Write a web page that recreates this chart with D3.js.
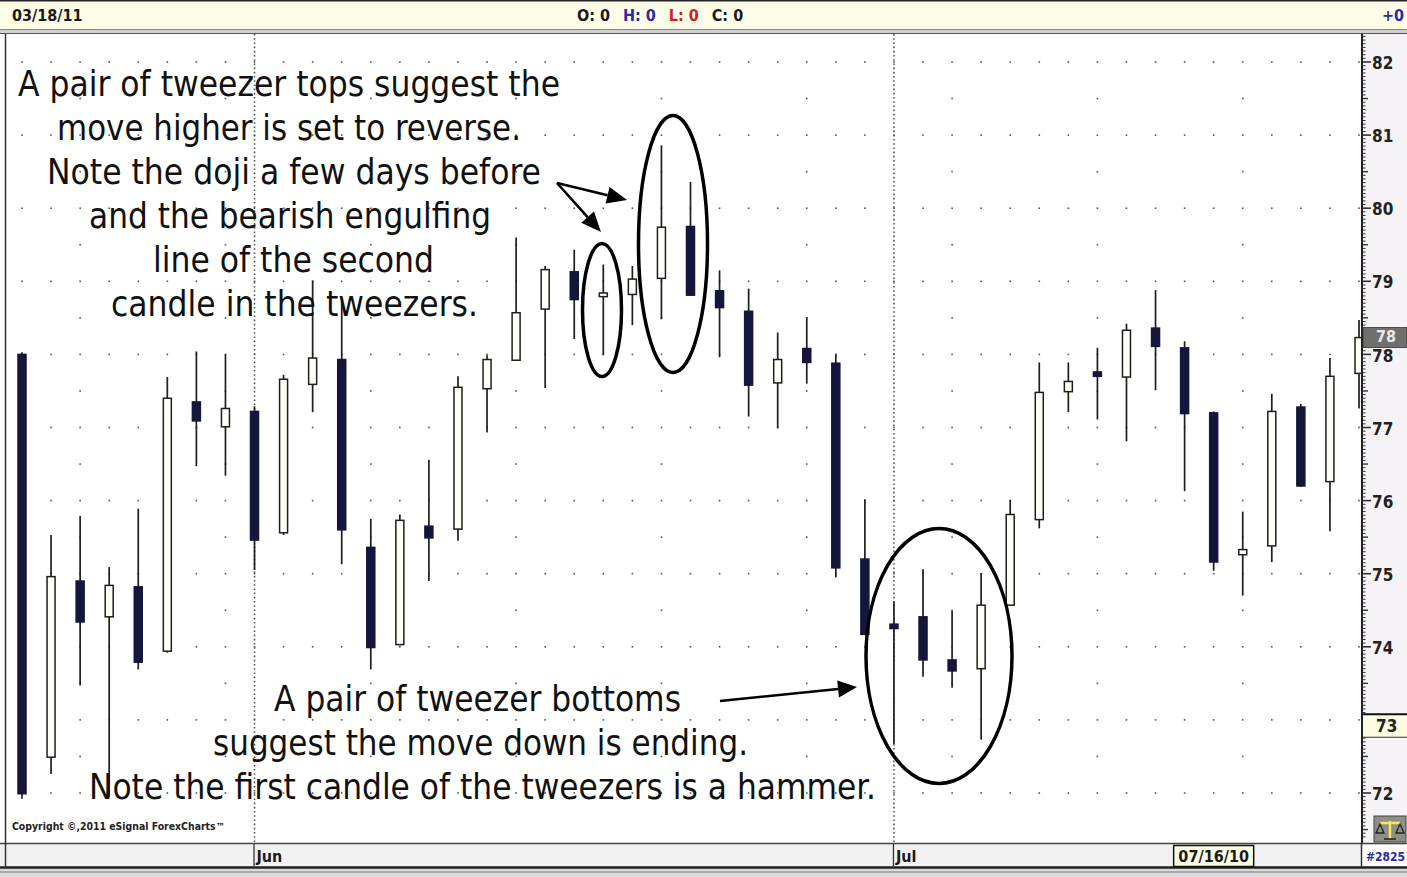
<!DOCTYPE html>
<html>
<head>
<meta charset="utf-8">
<script src="https://cdn.jsdelivr.net/npm/d3@7/dist/d3.min.js"></script>
<style>
  html, body { margin: 0; padding: 0; background: #fff; }
  svg { display: block; }
</style>
</head>
<body>
<svg id="chart" width="1407" height="877"></svg>
<script>
// ---------------- DATA ----------------
const dates = [
  "05/20/10","05/21/10","05/24/10","05/25/10","05/26/10","05/27/10","05/28/10","05/31/10",
  "06/01/10","06/02/10","06/03/10","06/04/10","06/07/10","06/08/10","06/09/10","06/10/10",
  "06/11/10","06/14/10","06/15/10","06/16/10","06/17/10","06/18/10","06/21/10","06/22/10",
  "06/23/10","06/24/10","06/25/10","06/28/10","06/29/10","06/30/10","07/01/10","07/02/10",
  "07/05/10","07/06/10","07/07/10","07/08/10","07/09/10","07/12/10","07/13/10","07/14/10",
  "07/15/10","07/16/10","07/19/10","07/20/10","07/21/10","07/22/10","07/23/10"
];
const openVals = [78.00,72.49,74.90,74.41,74.82,73.94,77.35,77.01,77.22,75.56,77.59,77.93,75.36,74.03,75.65,75.61,
  77.53,77.92,78.62,79.13,78.79,78.82,79.04,79.75,78.87,78.59,77.61,78.08,77.88,75.20,74.31,74.41,
  73.82,73.70,74.57,75.74,77.49,77.76,77.69,78.36,78.09,77.20,75.26,75.38,77.28,76.26,77.74];
const highVals = [78.03,75.53,75.79,75.09,75.89,77.69,78.04,78.00,77.29,77.72,79.01,78.77,75.75,75.81,76.56,77.70,
  77.99,79.60,79.21,79.43,79.23,79.21,80.86,80.36,79.15,78.90,78.30,78.51,78.00,76.02,74.62,75.06,
  74.49,75.01,76.01,77.89,77.89,78.09,78.42,78.88,78.18,77.22,75.85,77.46,77.32,77.95,78.47];
const lowVals = [71.92,72.26,73.47,71.95,73.69,73.92,76.47,76.34,75.05,75.53,77.21,75.13,73.69,74.02,74.90,75.45,
  76.93,77.92,77.54,78.21,77.99,78.40,78.48,78.80,77.96,77.15,76.99,77.60,74.95,74.16,72.67,73.59,
  73.44,72.73,74.56,75.62,77.21,77.11,76.81,77.51,76.13,75.04,74.70,75.16,76.19,75.58,77.26];
const closeVals = [71.99,74.96,74.34,74.84,73.79,77.40,77.09,77.26,75.46,77.66,77.95,75.60,73.99,75.73,75.49,77.55,
  77.93,78.57,79.16,78.75,78.84,79.03,79.74,78.81,78.64,77.58,77.93,77.89,75.08,74.17,74.25,73.82,
  73.67,74.57,75.81,77.48,77.63,77.70,78.33,78.11,77.19,75.16,75.33,77.22,76.20,77.70,78.23];
const priceTicks = [72,73,74,75,76,77,78,79,80,81,82];
const monthLabels = ["Jun","Jul"];
const cursorPrice = 72.92;
const cursorDate = "07/16/10";
const headerDate = "03/18/11";
const barCount = "#2825";

const topNotes = [
  "A pair of tweezer tops suggest the",
  "move higher is set to reverse.",
  "Note the doji a few days before",
  "and the bearish engulfing",
  "line of the second",
  "candle in the tweezers."
];
const bottomNotes = [
  "A pair of tweezer bottoms",
  "suggest the move down is ending.",
  "Note the first candle of the tweezers is a hammer."
];

// ---------------- LAYOUT ----------------
const W = 1407, H = 877;
const plot = { left: 6, right: 1362, top: 34, bottom: 843 };
const NARROW = "'Liberation Sans Narrow','Arial Narrow','DejaVu Sans Condensed',sans-serif";
const parse = d3.timeParse("%m/%d/%y");
const data = dates.map((d, i) => ({
  date: d, t: parse(d), o: openVals[i], h: highVals[i], l: lowVals[i], c: closeVals[i]
}));

const x = d3.scalePoint().domain(dates).range([22, 1359]);
const y = d3.scaleLinear().domain([72, 82]).range([793, 62]);

const svg = d3.select("#chart");

// background
svg.append("rect").attr("x", 0).attr("y", 0).attr("width", W).attr("height", H).attr("fill", "#ffffff");

// ---------- top bar ----------
svg.append("rect").attr("x", 0).attr("y", 0).attr("width", W).attr("height", 30).attr("fill", "#fdfde7");
svg.append("line").attr("x1", 0).attr("x2", W).attr("y1", 0.75).attr("y2", 0.75).attr("stroke", "#222").attr("stroke-width", 1.5);
svg.append("rect").attr("x", 0).attr("y", 29).attr("width", W).attr("height", 5).attr("fill", "#cfcfcf");
svg.append("line").attr("x1", 0).attr("x2", W).attr("y1", 29.5).attr("y2", 29.5).attr("stroke", "#888").attr("stroke-width", 1);
svg.append("line").attr("x1", 0).attr("x2", W).attr("y1", 33.5).attr("y2", 33.5).attr("stroke", "#555").attr("stroke-width", 1);

const hdr = svg.append("g").attr("font-family", NARROW).attr("font-weight", "bold").attr("font-size", 16);
hdr.append("text").attr("x", 12).attr("y", 21).attr("fill", "#1a1a1a").text(headerDate);
const ohlc = hdr.append("text").attr("x", 577).attr("y", 21);
[["O: 0", "#1a1a1a"], ["H: 0", "#2a2aa8"], ["L: 0", "#cc2222"], ["C: 0", "#1a1a1a"]].forEach((p, i) => {
  ohlc.append("tspan").attr("dx", i ? 13 : 0).attr("fill", p[1]).text(p[0]);
});
hdr.append("text").attr("x", 1404).attr("y", 21).attr("text-anchor", "end").attr("fill", "#2a2aa8").text("+0");

// ---------- plot area ----------
const clipId = "plotclip";
svg.append("clipPath").attr("id", clipId).append("rect")
  .attr("x", plot.left).attr("y", plot.top).attr("width", plot.right - plot.left + 2).attr("height", plot.bottom - plot.top);
const pg = svg.append("g").attr("clip-path", `url(#${clipId})`);

// grid dots: every bar on whole-number levels, Mondays on half levels
const dotG = pg.append("g").attr("fill", "#555");
const halfLevels = d3.range(72.5, 82, 1);
data.forEach(d => {
  priceTicks.forEach(v => {
    dotG.append("rect").attr("x", x(d.date) - 0.8).attr("y", y(v) - 0.8).attr("width", 1.6).attr("height", 1.6);
  });
  if (d.t.getDay() === 1) {
    halfLevels.forEach(v => {
      dotG.append("rect").attr("x", x(d.date) - 0.8).attr("y", y(v) - 0.8).attr("width", 1.6).attr("height", 1.6);
    });
  }
});

// month start dotted lines
const monthStarts = data.filter((d, i) => i > 0 && d.t.getMonth() !== data[i - 1].t.getMonth());
monthStarts.forEach(d => {
  pg.append("line").attr("x1", x(d.date)).attr("x2", x(d.date)).attr("y1", plot.top).attr("y2", plot.bottom)
    .attr("stroke", "#555").attr("stroke-width", 1.6).attr("stroke-dasharray", "1.6,2.6");
});

// candles
const bodyW = 8;
const cg = pg.append("g");
data.forEach(d => {
  const cx = x(d.date);
  const up = d.c >= d.o;
  cg.append("line").attr("x1", cx).attr("x2", cx).attr("y1", y(d.h)).attr("y2", y(d.l))
    .attr("stroke", "#1e1e1e").attr("stroke-width", 1.7);
  const top = y(Math.max(d.o, d.c)), bot = y(Math.min(d.o, d.c));
  const hgt = Math.max(bot - top, 3);
  cg.append("rect").attr("x", cx - bodyW / 2).attr("y", (top + bot) / 2 - hgt / 2)
    .attr("width", bodyW).attr("height", hgt)
    .attr("fill", up ? "#fffff8" : "#16153c")
    .attr("stroke", up ? "#1e1e1e" : "#16153c").attr("stroke-width", 1.5);
});

// annotations text
const noteG = pg.append("g").attr("font-family", NARROW).attr("font-size", 35).attr("fill", "#111");
const topLayout = [[18, 560, 96], [57, 521, 140], [47, 541, 184], [89, 491, 228], [153, 434, 272], [111, 478, 316]];
const botLayout = [[274, 681, 711], [213, 748, 755], [89, 876, 799]];
topNotes.forEach((t, i) => {
  const L = topLayout[i];
  noteG.append("text").attr("x", L[0]).attr("y", L[2]).attr("textLength", L[1] - L[0])
    .attr("lengthAdjust", "spacingAndGlyphs").text(t);
});
bottomNotes.forEach((t, i) => {
  const L = botLayout[i];
  noteG.append("text").attr("x", L[0]).attr("y", L[2]).attr("textLength", L[1] - L[0])
    .attr("lengthAdjust", "spacingAndGlyphs").text(t);
});

// ellipses
const ellG = pg.append("g").attr("fill", "none").attr("stroke", "#000").attr("stroke-width", 3.5);
ellG.append("ellipse").attr("cx", 602).attr("cy", 310).attr("rx", 19.5).attr("ry", 66.5);
ellG.append("ellipse").attr("cx", 673).attr("cy", 244).attr("rx", 34.5).attr("ry", 128.5);
ellG.append("ellipse").attr("cx", 939).attr("cy", 656).attr("rx", 73).attr("ry", 127.5);

// arrows
function arrow(g, x1, y1, x2, y2, len, wid) {
  const a = Math.atan2(y2 - y1, x2 - x1);
  const bx = x2 - len * Math.cos(a), by = y2 - len * Math.sin(a);
  g.append("line").attr("x1", x1).attr("y1", y1).attr("x2", bx).attr("y2", by)
    .attr("stroke", "#000").attr("stroke-width", 2.6);
  const px = -Math.sin(a) * wid / 2, py = Math.cos(a) * wid / 2;
  g.append("path").attr("d", `M${x2},${y2}L${bx + px},${by + py}L${bx - px},${by - py}Z`).attr("fill", "#000");
}
const arG = pg.append("g");
arrow(arG, 557, 183, 627, 200, 20, 17);
arrow(arG, 557, 183, 601, 232, 20, 17);
arrow(arG, 720, 701, 857, 687, 19, 17);

// copyright
pg.append("text").attr("x", 12).attr("y", 830).attr("font-family", NARROW).attr("font-weight", "bold")
  .attr("font-size", 10).attr("fill", "#222").attr("textLength", 213).attr("lengthAdjust", "spacingAndGlyphs")
  .text("Copyright \u00A9,2011 eSignal ForexCharts\u2122");

// left border
svg.append("line").attr("x1", 5.5).attr("x2", 5.5).attr("y1", plot.top).attr("y2", plot.bottom)
  .attr("stroke", "#333").attr("stroke-width", 1.5);

// ---------- right price axis ----------
const ax = svg.append("g");
ax.append("rect").attr("x", 1363).attr("y", plot.top).attr("width", W - 1363).attr("height", plot.bottom - plot.top)
  .attr("fill", "#f5f3f6");
const k0 = Math.ceil(y.invert(plot.bottom - 4) * 20), k1 = Math.floor(y.invert(plot.top + 2) * 20);
d3.range(k0, k1 + 1).forEach(k => {
  const v = k / 20, yy = y(v);
  let len = 2.5, sw = 1;
  if (k % 20 === 0) { len = 8; sw = 1.6; } else if (k % 10 === 0) { len = 5; sw = 1.4; }
  ax.append("line").attr("x1", 1363).attr("x2", 1363 + len).attr("y1", yy).attr("y2", yy)
    .attr("stroke", "#333").attr("stroke-width", sw);
});
const cursorLabel = Math.round(cursorPrice);
const axisLab = ax.append("g").attr("font-family", NARROW).attr("font-weight", "bold").attr("font-size", 17).attr("fill", "#222");
priceTicks.filter(v => v !== cursorLabel).forEach(v => {
  axisLab.append("text").attr("x", 1372).attr("y", y(v) + 1).attr("dy", "0.36em").text(v);
});
ax.append("line").attr("x1", 1362).attr("x2", 1362).attr("y1", plot.top).attr("y2", plot.bottom)
  .attr("stroke", "#222").attr("stroke-width", 2);

// last price box
const lastPrice = closeVals[closeVals.length - 1];
const ly = y(lastPrice);
ax.append("rect").attr("x", 1363).attr("y", ly - 10).attr("width", W - 1363).attr("height", 20)
  .attr("fill", "#6f6f6f").attr("stroke", "#333").attr("stroke-width", 0.8);
ax.append("text").attr("x", 1376).attr("y", ly - 1).attr("dy", "0.36em").attr("font-family", NARROW)
  .attr("font-weight", "bold").attr("font-size", 16).attr("fill", "#e8e8e8").text(Math.round(lastPrice));

// cursor price box
const cy = y(cursorPrice);
ax.append("rect").attr("x", 1363).attr("y", cy - 11.5).attr("width", W - 1363).attr("height", 23)
  .attr("fill", "#fdfbe2");
ax.append("line").attr("x1", 1363).attr("x2", W).attr("y1", cy - 11.5).attr("y2", cy - 11.5).attr("stroke", "#111").attr("stroke-width", 2);
ax.append("line").attr("x1", 1363).attr("x2", W).attr("y1", cy + 11.5).attr("y2", cy + 11.5).attr("stroke", "#333").attr("stroke-width", 1);
ax.append("text").attr("x", 1376).attr("y", cy).attr("dy", "0.38em").attr("font-family", NARROW)
  .attr("font-weight", "bold").attr("font-size", 17).attr("fill", "#222").text(cursorLabel);

// scales icon
const ic = ax.append("g");
ic.append("rect").attr("x", 1374).attr("y", 816).attr("width", 32).attr("height", 26).attr("fill", "#8f8f84").attr("stroke", "#444");
ic.append("line").attr("x1", 1390).attr("x2", 1390).attr("y1", 821).attr("y2", 839).attr("stroke", "#f0e860").attr("stroke-width", 2.5);
ic.append("line").attr("x1", 1380).attr("x2", 1400).attr("y1", 823).attr("y2", 823).attr("stroke", "#f0e860").attr("stroke-width", 2.5);
ic.append("path").attr("d", "M1376,833L1380,824L1384,833Z M1396,833L1400,824L1404,833Z").attr("fill", "none").attr("stroke", "#222").attr("stroke-width", 1.3);
ic.append("line").attr("x1", 1384).attr("x2", 1396).attr("y1", 839).attr("y2", 839).attr("stroke", "#222").attr("stroke-width", 1.5);

// ---------- bottom bar ----------
const bb = svg.append("g");
bb.append("rect").attr("x", 0).attr("y", plot.bottom).attr("width", W).attr("height", 24).attr("fill", "#f1f1f1");
bb.append("line").attr("x1", 0).attr("x2", W).attr("y1", plot.bottom + 0.5).attr("y2", plot.bottom + 0.5).attr("stroke", "#444").attr("stroke-width", 1.5);
bb.append("rect").attr("x", 0).attr("y", 866).attr("width", W).attr("height", H - 866).attr("fill", "#dadada");
bb.append("line").attr("x1", 0).attr("x2", W).attr("y1", 867.5).attr("y2", 867.5).attr("stroke", "#222").attr("stroke-width", 2.5);
bb.append("line").attr("x1", 0).attr("x2", W).attr("y1", 872).attr("y2", 872).attr("stroke", "#777").attr("stroke-width", 1);
bb.append("line").attr("x1", 5.5).attr("x2", 5.5).attr("y1", plot.bottom).attr("y2", 867).attr("stroke", "#333").attr("stroke-width", 1.5);

monthStarts.forEach(d => {
  const mx = x(d.date);
  bb.append("line").attr("x1", mx - 0.5).attr("x2", mx - 0.5).attr("y1", plot.bottom + 1).attr("y2", 866)
    .attr("stroke", "#333").attr("stroke-width", 1.3);
});
// cursor date box
const dx = x(cursorDate);
bb.append("rect").attr("x", dx - 40).attr("y", 845.5).attr("width", 80).attr("height", 21)
  .attr("fill", "#fdfbe2").attr("stroke", "#111").attr("stroke-width", 1.5);
// bar count box
bb.append("rect").attr("x", 1362).attr("y", 845).attr("width", W - 1362).attr("height", 21).attr("fill", "#ffffff");
bb.append("line").attr("x1", 1361.5).attr("x2", 1361.5).attr("y1", plot.bottom).attr("y2", 867).attr("stroke", "#333").attr("stroke-width", 1.5);

const bl = bb.append("g").attr("font-family", NARROW).attr("font-weight", "bold").attr("font-size", 16).attr("fill", "#1a1a1a");
monthStarts.forEach((d, i) => {
  bl.append("text").attr("x", x(d.date) + 2).attr("y", 862).text(monthLabels[i]);
});
bl.append("text").attr("x", dx).attr("y", 862).attr("text-anchor", "middle").text(cursorDate);
bl.append("text").attr("x", 1405).attr("y", 861).attr("text-anchor", "end").attr("fill", "#2a2aa8")
  .attr("font-size", 12).text(barCount);
</script>
</body>
</html>
